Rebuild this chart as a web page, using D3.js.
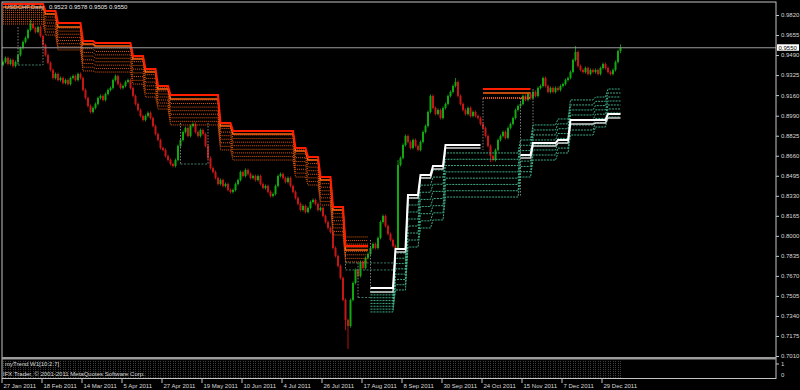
<!DOCTYPE html>
<html>
<head>
<meta charset="utf-8">
<script src="https://cdn.jsdelivr.net/npm/d3@7"></script>
<style>
html, body { margin: 0; padding: 0; background: #000; }
svg { display: block; }
text { font-family: "Liberation Sans", Arial, sans-serif; font-size: 6px; fill: #d8d8d8; }
</style>
</head>
<body>
<svg id="grafico" width="800" height="390"></svg>
<script>
// daily closes USDCHF, 27 Jan 2011 .. 9 Jan 2012
var closes = [
  0.9433, 0.9466, 0.9416, 0.9449, 0.9400, 0.9433, 0.9490, 0.9548,
  0.9598, 0.9631, 0.9696, 0.9746, 0.9713, 0.9680, 0.9721, 0.9647,
  0.9573, 0.9490, 0.9425, 0.9367, 0.9301, 0.9334, 0.9284, 0.9301,
  0.9260, 0.9284, 0.9251, 0.9301, 0.9317, 0.9284, 0.9334, 0.9301,
  0.9202, 0.9136, 0.9070, 0.9021, 0.9054, 0.9087, 0.9136, 0.9153,
  0.9120, 0.9169, 0.9202, 0.9219, 0.9284, 0.9317, 0.9251, 0.9219,
  0.9235, 0.9268, 0.9284, 0.9219, 0.9153, 0.9087, 0.9037, 0.8988,
  0.8955, 0.8988, 0.9013, 0.8971, 0.8905, 0.8839, 0.8790, 0.8724,
  0.8708, 0.8658, 0.8625, 0.8592, 0.8576, 0.8625, 0.8741, 0.8790,
  0.8856, 0.8889, 0.8823, 0.8905, 0.8922, 0.8856, 0.8823, 0.8872,
  0.8839, 0.8741, 0.8642, 0.8559, 0.8526, 0.8477, 0.8427, 0.8460,
  0.8411, 0.8427, 0.8378, 0.8362, 0.8378, 0.8427, 0.8460, 0.8526,
  0.8493, 0.8543, 0.8510, 0.8477, 0.8493, 0.8460, 0.8493, 0.8427,
  0.8395, 0.8411, 0.8362, 0.8329, 0.8345, 0.8411, 0.8493, 0.8510,
  0.8477, 0.8444, 0.8477, 0.8411, 0.8362, 0.8312, 0.8263, 0.8213,
  0.8246, 0.8197, 0.8230, 0.8279, 0.8296, 0.8263, 0.8213, 0.8230,
  0.8164, 0.8114, 0.8065, 0.8032, 0.7900, 0.7834, 0.7752, 0.7653,
  0.7472, 0.7307, 0.7257, 0.7472, 0.7612, 0.7719, 0.7669, 0.7785,
  0.7735, 0.7818, 0.7851, 0.7900, 0.7933, 0.7900, 0.7983, 0.8114,
  0.8164, 0.8081, 0.8015, 0.7966, 0.7917, 0.7900, 0.8584, 0.8642,
  0.8749, 0.8823, 0.8774, 0.8724, 0.8790, 0.8741, 0.8708, 0.8774,
  0.8856, 0.8905, 0.9021, 0.9153, 0.9054, 0.9004, 0.9037, 0.8971,
  0.9054, 0.9087, 0.9153, 0.9186, 0.9235, 0.9268, 0.9153, 0.9087,
  0.9037, 0.9004, 0.9054, 0.8988, 0.9021, 0.8988, 0.8971, 0.8922,
  0.8889, 0.8823, 0.8741, 0.8658, 0.8625, 0.8708, 0.8790, 0.8823,
  0.8856, 0.8807, 0.8889, 0.8922, 0.8971, 0.9037, 0.9070, 0.9087,
  0.9153, 0.9120, 0.9169, 0.9136, 0.9186, 0.9153, 0.9219, 0.9235,
  0.9301, 0.9235, 0.9186, 0.9219, 0.9186, 0.9219, 0.9202, 0.9235,
  0.9251, 0.9284, 0.9301, 0.9350, 0.9449, 0.9515, 0.9400, 0.9367,
  0.9350, 0.9383, 0.9334, 0.9367, 0.9350, 0.9367, 0.9334, 0.9383,
  0.9416, 0.9383, 0.9350, 0.9334, 0.9367, 0.9433, 0.9523, 0.9550
];
var firstOpen = 0.9410;

// bars with a visible long shadow: [bar, high, low]
var wicks = [
  [11, 0.9779, null], [137, null, 0.7224], [138, null, 0.7068],
  [158, 0.8625, null], [181, 0.9301, null], [195, null, 0.8609],
  [229, 0.9565, null], [247, 0.9578, 0.9505]
];

var lastBar = { open: 0.9523, high: 0.9578, low: 0.9505, close: 0.9550 };

var priceTicks = [0.9820, 0.9655, 0.9490, 0.9325, 0.9160, 0.8990, 0.8825, 0.8660, 0.8495,
                  0.8330, 0.8165, 0.8000, 0.7835, 0.7670, 0.7505, 0.7340, 0.7175, 0.7010];

var dateLabels = ['27 Jan 2011', '18 Feb 2011', '14 Mar 2011', '5 Apr 2011', '27 Apr 2011',
                  '19 May 2011', '10 Jun 2011', '4 Jul 2011', '26 Jul 2011', '17 Aug 2011',
                  '8 Sep 2011', '30 Sep 2011', '24 Oct 2011', '15 Nov 2011', '7 Dec 2011', '29 Dec 2011'];
var dateTickBars = [0, 16, 32, 48, 64, 80, 96, 112, 128, 144, 160, 176, 192, 208, 224, 240];

// myTrend W1 down steps: [fromBar, toBar, level, second, bandTop, bandBottom]
var downSteps = [
  [0, 17, 0.9911, 0.9886, 0.9878, 0.9746],
  [17, 22, 0.9853, 0.9828, 0.9828, 0.9655],
  [22, 32, 0.9754, 0.9721, 0.9713, 0.9532],
  [32, 37, 0.9606, 0.9581, 0.9573, 0.9359],
  [37, 52, 0.9589, 0.9565, 0.9548, 0.9350],
  [52, 57, 0.9482, 0.9458, 0.9466, 0.9251],
  [57, 62, 0.9375, 0.9350, 0.9359, 0.9144],
  [62, 67, 0.9235, 0.9210, 0.9219, 0.9045],
  [67, 87, 0.9161, 0.9128, 0.9120, 0.8914],
  [87, 92, 0.8930, 0.8905, 0.8914, 0.8708],
  [92, 117, 0.8864, 0.8839, 0.8831, 0.8625],
  [117, 122, 0.8724, 0.8699, 0.8708, 0.8485],
  [122, 127, 0.8650, 0.8625, 0.8625, 0.8419],
  [127, 132, 0.8485, 0.8460, 0.8460, 0.8254],
  [132, 137, 0.8238, 0.8213, 0.8213, 0.8007],
  [137, 147, 0.7917, 0.7884, 0.7991, 0.7785],
  [192, 212, 0.9210, 0.9177, 0.9136, 0.9136]
];

// myTrend W1 up steps: [fromBar, toBar, level, second, bandTop, bandBottom]
var upSteps = [
  [147, 157, 0.7571, 0.7537, 0.7537, 0.7373],
  [157, 162, 0.7892, 0.7867, 0.7859, 0.7554],
  [162, 167, 0.8337, 0.8312, 0.8312, 0.7908],
  [167, 172, 0.8502, 0.8477, 0.8477, 0.8065],
  [172, 177, 0.8576, 0.8551, 0.8543, 0.8131],
  [177, 192, 0.8749, 0.8724, 0.8683, 0.8320],
  [192, 207, null, null, 0.8683, 0.8320],
  [207, 212, 0.8666, 0.8642, 0.8790, 0.8485],
  [212, 222, 0.8765, 0.8741, 0.8914, 0.8625],
  [222, 227, 0.8790, 0.8765, 0.8963, 0.8683],
  [227, 237, 0.8955, 0.8922, 0.9120, 0.8831],
  [237, 242, 0.8955, 0.8930, 0.9144, 0.8897],
  [242, 248, 0.9004, 0.8971, 0.9210, 0.8980]
];

// inactive (grey) levels: verticals [bar, top, bottom], floors [fromBar, toBar, level]
var ghostVerticals = [
  [6, 0.9721, 0.9408], [16, 0.9614, 0.9408], [71, 0.8930, 0.8592], [82, 0.8930, 0.8592],
  [137, 0.7991, 0.7719], [142, 0.7777, 0.7492], [147, 0.7966, 0.7529],
  [192, 0.9136, 0.8708], [207, 0.9136, 0.8320], [212, 0.9210, 0.8790]
];
var ghostFloors = [
  [6, 16, 0.9408], [71, 82, 0.8592], [137, 157, 0.7777], [137, 157, 0.7719], [142, 147, 0.7492]
];

var bandLines = 8;

var svg = d3.select('#grafico');
var painel = { esquerda: 2, direita: 776, superior: 2, inferior: 357 };

var x = d3.scaleLinear().domain([0, closes.length - 1]).range([3, 3 + 2.5 * (closes.length - 1)]);
var y = d3.scaleLinear().domain([0.7010, 0.9820]).range([356, 15]);

svg.append('defs').append('clipPath').attr('id', 'recorte')
  .append('rect')
  .attr('x', painel.esquerda).attr('y', painel.superior)
  .attr('width', painel.direita - painel.esquerda)
  .attr('height', painel.inferior - painel.superior);

var plotagem = svg.append('g').attr('clip-path', 'url(#recorte)');

// candles
var barras = closes.map(function (c, i) {
  var o = i === 0 ? firstOpen : closes[i - 1];
  var hi = null, lo = null;
  wicks.forEach(function (w) { if (w[0] === i) { hi = w[1]; lo = w[2]; } });
  return { i: i, o: o, c: c, hi: hi, lo: lo };
});

plotagem.selectAll('.pavio')
  .data(barras)
  .enter()
    .append('line')
    .classed('pavio', true)
    .attr('x1', d => x(d.i)).attr('x2', d => x(d.i))
    .attr('y1', d => d.hi != null ? y(d.hi) : y(Math.max(d.o, d.c)) - 1.5)
    .attr('y2', d => d.lo != null ? y(d.lo) : y(Math.min(d.o, d.c)) + 1.5)
    .attr('stroke', d => d.c >= d.o ? '#109c10' : '#c01414')
    .attr('stroke-width', 0.9);

plotagem.selectAll('.corpo')
  .data(barras)
  .enter()
    .append('rect')
    .classed('corpo', true)
    .attr('x', d => x(d.i) - 1)
    .attr('y', d => y(Math.max(d.o, d.c)))
    .attr('width', 2)
    .attr('height', d => Math.max(1, Math.abs(y(d.o) - y(d.c))))
    .attr('fill', d => d.c >= d.o ? '#12a812' : '#c81616');

// indicator buffers, one value per bar
function buffer(steps, pick) {
  var arr = closes.map(function () { return null; });
  steps.forEach(function (s) {
    for (var i = s[0]; i < s[1] && i < closes.length; i++) arr[i] = pick(s);
  });
  return arr;
}

var linha = d3.line()
  .defined(d => d != null)
  .x((d, i) => x(i))
  .y(d => y(d));

// grey inactive levels
plotagem.selectAll('.fantasmaV')
  .data(ghostVerticals)
  .enter()
    .append('line')
    .attr('x1', d => x(d[0])).attr('x2', d => x(d[0]))
    .attr('y1', d => y(d[1])).attr('y2', d => y(d[2]))
    .attr('stroke', '#7c7c7c').attr('stroke-width', 1)
    .attr('stroke-dasharray', '1.5,1.5');

plotagem.selectAll('.fantasmaH')
  .data(ghostFloors)
  .enter()
    .append('line')
    .attr('x1', d => x(d[0])).attr('x2', d => x(d[1]))
    .attr('y1', d => y(d[2])).attr('y2', d => y(d[2]))
    .attr('stroke', '#3f7a62').attr('stroke-width', 1)
    .attr('stroke-dasharray', '2,1.5');

// bands
for (var k = 0; k < bandLines; k++) {
  (function (k) {
    var f = k / (bandLines - 1);
    plotagem.append('path')
      .datum(buffer(downSteps, s => s[4] + (s[5] - s[4]) * f))
      .attr('d', linha)
      .attr('fill', 'none')
      .attr('stroke', '#e4580e')
      .attr('stroke-width', 1)
      .attr('stroke-dasharray', '1,1');
    plotagem.append('path')
      .datum(buffer(upSteps, s => s[4] + (s[5] - s[4]) * f))
      .attr('d', linha)
      .attr('fill', 'none')
      .attr('stroke', '#3fae82')
      .attr('stroke-width', 1)
      .attr('stroke-dasharray', '2,1');
  })(k);
}

// second lines and main lines
plotagem.append('path')
  .datum(buffer(downSteps, s => s[3]))
  .attr('d', linha).attr('fill', 'none')
  .attr('stroke', '#ff6410').attr('stroke-width', 1.5);
plotagem.append('path')
  .datum(buffer(downSteps, s => s[2]))
  .attr('d', linha).attr('fill', 'none')
  .attr('stroke', '#ff1e00').attr('stroke-width', 2);
plotagem.append('path')
  .datum(buffer(upSteps, s => s[3]))
  .attr('d', linha).attr('fill', 'none')
  .attr('stroke', '#d0d0d0').attr('stroke-width', 1.5);
plotagem.append('path')
  .datum(buffer(upSteps, s => s[2]))
  .attr('d', linha).attr('fill', 'none')
  .attr('stroke', '#ffffff').attr('stroke-width', 2);

// bid line
svg.append('line')
  .attr('x1', painel.esquerda).attr('x2', painel.direita)
  .attr('y1', y(lastBar.close)).attr('y2', y(lastBar.close))
  .attr('stroke', '#9a9a9a').attr('stroke-width', 1);

// frame
svg.append('rect')
  .attr('x', painel.esquerda).attr('y', painel.superior)
  .attr('width', painel.direita - painel.esquerda).attr('height', 378.5 - painel.superior)
  .attr('fill', 'none').attr('stroke', '#c4c4c4').attr('stroke-width', 1);
svg.append('rect')
  .attr('x', painel.esquerda).attr('y', painel.inferior)
  .attr('width', painel.direita - painel.esquerda).attr('height', 2.5)
  .attr('fill', '#9c9c9c');

// price axis
var eixoY = svg.append('g')
  .attr('transform', 'translate(' + painel.direita + ',0)')
  .call(d3.axisRight(y).tickValues(priceTicks).tickFormat(d3.format('.4f')).tickSize(3).tickPadding(2));
eixoY.select('.domain').remove();
eixoY.selectAll('line').attr('stroke', '#c4c4c4');
eixoY.selectAll('text').attr('fill', '#d0d0d0');
eixoY.attr('font-size', null).attr('font-family', null);

// current price label
svg.append('rect')
  .attr('x', 777).attr('y', y(lastBar.close) - 3.5)
  .attr('width', 22).attr('height', 6.5)
  .attr('fill', '#ffffff');
svg.append('text')
  .attr('x', 778.5).attr('y', y(lastBar.close) + 2.2)
  .style('fill', '#000')
  .text(d3.format('.4f')(lastBar.close));

// date axis
var eixoX = svg.append('g')
  .attr('transform', 'translate(-1.5,379)')
  .call(d3.axisBottom(x).tickValues(dateTickBars).tickFormat((d, i) => dateLabels[i]).tickSize(4).tickPadding(1));
eixoX.select('.domain').remove();
eixoX.selectAll('line').attr('stroke', '#c4c4c4');
eixoX.selectAll('text').attr('text-anchor', 'start').attr('x', 1.5).attr('dy', '0.6em').attr('fill', '#d0d0d0');
eixoX.attr('font-size', null).attr('font-family', null);

// sub-window
svg.selectAll('.histo')
  .data(barras)
  .enter()
    .append('line')
    .attr('x1', d => x(d.i)).attr('x2', d => x(d.i))
    .attr('y1', 361).attr('y2', 377.5)
    .attr('stroke', '#3c3c3c').attr('stroke-width', 1)
    .attr('stroke-dasharray', '1,1')
    .attr('shape-rendering', 'crispEdges');

svg.append('text').attr('x', 5).attr('y', 366.2).text('myTrend W1[10:2.7]');
svg.append('text').attr('x', 3).attr('y', 375.6).text('IFX Trader, \u00a9 2001-2011 MetaQuotes Software Corp.');
svg.append('line').attr('x1', 776).attr('x2', 779).attr('y1', 364).attr('y2', 364).attr('stroke', '#c4c4c4');
svg.append('text').attr('x', 781).attr('y', 366).text('1');
svg.append('text').attr('x', 781).attr('y', 377).text('0');

// header
svg.append('text').attr('x', 5).attr('y', 9).style('fill', '#c8c8c8').text('USDCHF,Daily');
svg.append('text').attr('x', 49).attr('y', 9).style('fill', '#e8e8e8')
  .text([lastBar.open, lastBar.high, lastBar.low, lastBar.close].map(d3.format('.4f')).join(' '));
</script>
</body>
</html>
